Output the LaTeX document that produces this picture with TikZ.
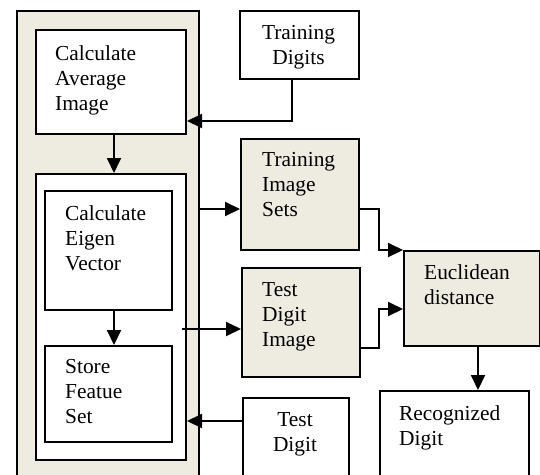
\documentclass[tikz,border=0pt]{standalone}
\usepackage{fontspec}
\setmainfont{Liberation Serif}
\usetikzlibrary{arrows.meta,calc}
\definecolor{tanbg}{HTML}{EEECE1}
\tikzset{
  box/.style={draw, line width=2pt, inner sep=0pt, anchor=north west},
  tanbox/.style={box, fill=tanbg},
  whitebox/.style={box, fill=white},
  txt/.style={anchor=north west, inner sep=0pt, align=left,
    font=\fontsize{21.4}{25}\selectfont, execute at begin node=\strut},
  ctxt/.style={txt, anchor=north, align=center},
  arr/.style={line width=2pt, -{Triangle[length=15pt,width=14pt]}},
}
\begin{document}
\begin{tikzpicture}[x=1pt,y=-1pt]
\useasboundingbox (0,0) rectangle (540,474);
\clip (0,0) rectangle (540,474);
% boxes
\node[tanbox, minimum width=182, minimum height=500] (outer) at (16,10) {};
\node[whitebox, minimum width=150, minimum height=104] (avg) at (35,29) {};
\node[whitebox, minimum width=150, minimum height=286] (inner) at (35,173) {};
\node[whitebox, minimum width=127, minimum height=119] (eig) at (44,190) {};
\node[whitebox, minimum width=127, minimum height=96] (store) at (44,345) {};
\node[whitebox, minimum width=119, minimum height=68] (td) at (239,10) {};
\node[tanbox, minimum width=118, minimum height=111] (tis) at (240,138) {};
\node[tanbox, minimum width=118, minimum height=109] (tdi) at (241,267) {};
\node[tanbox, minimum width=136, minimum height=95] (euc) at (403,250) {};
\node[whitebox, minimum width=149, minimum height=100] (rec) at (379,390) {};
\node[whitebox, minimum width=106, minimum height=100] (tdg) at (242,397) {};
% texts
\node[txt] (avgT) at (55,45.5) {Calculate\\Average\\Image};
\node[txt] (eigT) at (65,205.5) {Calculate\\Eigen\\Vector};
\node[txt] (storeT) at (65,359.5) {Store\\Featue\\Set};
\node[ctxt] (tdT) at (298.5,25) {Training\\Digits};
\node[txt] (tisT) at (262,152.5) {Training\\Image\\Sets};
\node[txt] (tdiT) at (262,282.5) {Test\\Digit\\Image};
\node[txt] (eucT) at (424,264.5) {Euclidean\\distance};
\node[txt] (recT) at (399,405.5) {Recognized\\Digit};
\node[ctxt] (tdgT) at (295,412.5) {Test\\Digit};
% connectors
\draw[arr] ($(td.south west)+(53,0)$) |- ($(avg.north east)+(0,92)$);
\draw[arr] ($(avg.south)+(3,0)$) -- ($(inner.north)+(3,0)$);
\draw[arr] ($(eig.south)+(5.5,0)$) -- ($(store.north)+(5.5,0)$);
\coordinate (s1) at (200,209);
\draw[arr] (s1) -- (s1 -| tis.west);
\coordinate (s2) at (182,329);
\draw[arr] (s2) -- (s2 -| tdi.west);
\draw[arr] ($(tis.north east)+(0,71)$) -| ($(euc.north west)+(-24,0)$) -- (euc.north west);
\draw[arr] ($(tdi.north east)+(0,81)$) -| ($(euc.west)+(-24,10.5)$) -- ($(euc.west)+(0,10.5)$);
\draw[arr] ($(euc.south)+(6,0)$) coordinate (e1) -- (e1 |- rec.north);
\draw[arr] ($(tdg.north west)+(0,24)$) coordinate (t1) -- (t1 -| inner.east);
\end{tikzpicture}
\end{document}
